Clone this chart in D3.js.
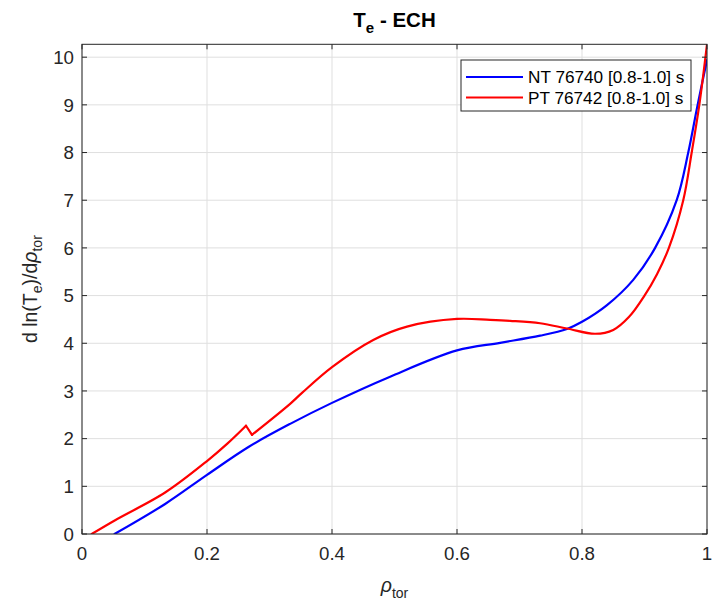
<!DOCTYPE html>
<html>
<head>
<meta charset="utf-8">
<script src="https://cdn.jsdelivr.net/npm/d3@7"></script>
<style>
  html, body { margin: 0; padding: 0; background: #fff; }
  svg { display: block; font-family: "Liberation Sans", Arial, Helvetica, sans-serif; }
</style>
</head>
<body>
<svg id="chart" width="716" height="606"></svg>
<script>
// Normalised toroidal radius samples and gradient values for each shot
const ntRho = [0.052, 0.133, 0.200, 0.267, 0.333, 0.400, 0.493, 0.600, 0.669, 0.733, 0.776, 0.800, 0.840, 0.882, 0.917, 0.9515, 0.970, 0.985, 1.000];
const ntVal = [0.00, 0.63, 1.24, 1.83, 2.31, 2.75, 3.30, 3.85, 4.01, 4.16, 4.30, 4.45, 4.80, 5.33, 6.00, 7.00, 8.00, 9.00, 9.94];

const ptRho = [0.0155, 0.053, 0.133, 0.200, 0.233, 0.2624, 0.272, 0.333, 0.352, 0.400, 0.466, 0.520, 0.600, 0.653, 0.685, 0.733, 0.776, 0.821, 0.850, 0.875, 0.900, 0.920, 0.939, 0.962, 0.9755, 0.9877, 1.000];
const ptVal = [0.00, 0.29, 0.87, 1.53, 1.90, 2.27, 2.08, 2.73, 2.96, 3.50, 4.07, 4.35, 4.51, 4.49, 4.47, 4.42, 4.31, 4.20, 4.28, 4.55, 5.00, 5.45, 6.00, 7.00, 8.00, 9.00, 10.27];

const seriesNames = ["NT 76740 [0.8-1.0] s", "PT 76742 [0.8-1.0] s"];
const seriesColors = ["#0000ff", "#ff0000"];

const xTicks = [0, 0.2, 0.4, 0.6, 0.8, 1];
const yTicks = [0, 1, 2, 3, 4, 5, 6, 7, 8, 9, 10];
const xDomain = [0, 1];
const yDomain = [0, 10.27];

const svg = d3.select("#chart");
const box = { left: 82, right: 707, top: 44.3, bottom: 534 };

const x = d3.scaleLinear().domain(xDomain).range([box.left, box.right]);
const y = d3.scaleLinear().domain(yDomain).range([box.bottom, box.top]);

const axisColor = "#262626";
const tickFont = 18.7;
const labelFont = 19.5;

// grid
const grid = svg.append("g");
grid.selectAll("line.gx").data(xTicks).join("line")
  .attr("x1", d => x(d)).attr("x2", d => x(d))
  .attr("y1", box.top).attr("y2", box.bottom)
  .attr("stroke", "#dfdfdf").attr("stroke-width", 1);
grid.selectAll("line.gy").data(yTicks).join("line")
  .attr("x1", box.left).attr("x2", box.right)
  .attr("y1", d => y(d)).attr("y2", d => y(d))
  .attr("stroke", "#dfdfdf").attr("stroke-width", 1);

// curves
svg.append("clipPath").attr("id", "plotClip").append("rect")
  .attr("x", box.left).attr("y", box.top)
  .attr("width", box.right - box.left).attr("height", box.bottom - box.top);

const line = d3.line().x(d => x(d[0])).y(d => y(d[1])).curve(d3.curveCatmullRom.alpha(0.5));

function pieces(rho, val) {
  const pts = rho.map((r, i) => [r, val[i]]);
  // split at the sawtooth so its corners stay sharp
  const k = pts.findIndex((p, i) => i > 0 && i < pts.length - 1 && pts[i + 1][1] < p[1] && pts[i + 1][0] - p[0] < 0.02);
  if (k < 0) return [pts];
  return [pts.slice(0, k + 1), pts.slice(k, k + 2), pts.slice(k + 1)];
}

const plotG = svg.append("g").attr("clip-path", "url(#plotClip)");
[[ntRho, ntVal], [ptRho, ptVal]].forEach(([r, v], si) => {
  pieces(r, v).forEach(seg => {
    plotG.append("path")
      .attr("d", line(seg))
      .attr("fill", "none")
      .attr("stroke", seriesColors[si])
      .attr("stroke-width", 2.2)
      .attr("stroke-linejoin", "round")
      .attr("stroke-linecap", "round");
  });
});

// axes with inward ticks on all sides
const tickLen = 5;
const axisG = svg.append("g").attr("stroke", axisColor).attr("stroke-width", 1);
axisG.append("rect")
  .attr("x", box.left).attr("y", box.top)
  .attr("width", box.right - box.left).attr("height", box.bottom - box.top)
  .attr("fill", "none");
xTicks.forEach(t => {
  axisG.append("line").attr("x1", x(t)).attr("x2", x(t)).attr("y1", box.bottom).attr("y2", box.bottom - tickLen);
  axisG.append("line").attr("x1", x(t)).attr("x2", x(t)).attr("y1", box.top).attr("y2", box.top + tickLen);
});
yTicks.forEach(t => {
  axisG.append("line").attr("y1", y(t)).attr("y2", y(t)).attr("x1", box.left).attr("x2", box.left + tickLen);
  axisG.append("line").attr("y1", y(t)).attr("y2", y(t)).attr("x1", box.right).attr("x2", box.right - tickLen);
});

// tick labels
svg.append("g").selectAll("text").data(xTicks).join("text")
  .attr("x", d => x(d)).attr("y", 559.5)
  .attr("text-anchor", "middle")
  .attr("font-size", tickFont).attr("fill", axisColor)
  .text(d => d3.format("~g")(d));
svg.append("g").selectAll("text").data(yTicks).join("text")
  .attr("x", box.left - 8).attr("y", d => y(d) + 6.7)
  .attr("text-anchor", "end")
  .attr("font-size", tickFont).attr("fill", axisColor)
  .text(d => d);

// title
const title = svg.append("text")
  .attr("x", (box.left + box.right) / 2).attr("y", 27)
  .attr("text-anchor", "middle")
  .attr("font-size", 20.5).attr("font-weight", "bold").attr("fill", "#000");
title.append("tspan").text("T");
title.append("tspan").attr("font-size", 15).attr("dy", 6).text("e");
title.append("tspan").attr("dy", -6).text(" - ECH");

// x label
const xl = svg.append("text")
  .attr("x", (box.left + box.right) / 2).attr("y", 592)
  .attr("text-anchor", "middle")
  .attr("font-size", labelFont).attr("fill", axisColor);
xl.append("tspan").attr("font-style", "italic").text("ρ");
xl.append("tspan").attr("font-size", 14).attr("dy", 6).text("tor");

// y label
const yl = svg.append("text")
  .attr("transform", `translate(37,${(box.top + box.bottom) / 2}) rotate(-90)`)
  .attr("text-anchor", "middle")
  .attr("font-size", labelFont).attr("fill", axisColor);
yl.append("tspan").text("d ln(T");
yl.append("tspan").attr("font-size", 14).attr("dy", 5).text("e");
yl.append("tspan").attr("dy", -5).text(")/d");
yl.append("tspan").attr("font-style", "italic").text("ρ");
yl.append("tspan").attr("font-size", 14).attr("dy", 5).text("tor");

// legend
const lg = svg.append("g");
lg.append("rect")
  .attr("x", 461).attr("y", 60).attr("width", 230).attr("height", 51)
  .attr("fill", "#fff").attr("stroke", axisColor).attr("stroke-width", 1);
seriesNames.forEach((name, i) => {
  const ly = 77 + i * 20.5;
  lg.append("line").attr("x1", 466).attr("x2", 523).attr("y1", ly).attr("y2", ly)
    .attr("stroke", seriesColors[i]).attr("stroke-width", 2.2);
  lg.append("text").attr("x", 528).attr("y", ly + 6.2)
    .attr("font-size", 17.2).attr("fill", "#000").text(name);
});
</script>
</body>
</html>
